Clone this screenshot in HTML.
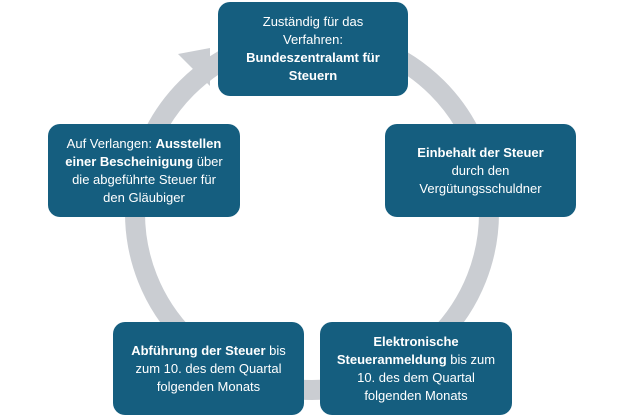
<!DOCTYPE html>
<html><head><meta charset="utf-8"><style>
body{margin:0;width:624px;height:418px;background:#fff;position:relative;overflow:hidden;font-family:"Liberation Sans",sans-serif;}
.b{position:absolute;background:#155e7f;border-radius:12px;color:#fff;font-size:13px;line-height:18px;text-align:center;display:flex;align-items:center;justify-content:center;box-sizing:border-box;padding:0 14px;}
b{font-weight:bold}
</style></head><body>
<svg width="624" height="418" style="position:absolute;left:0;top:0">
<circle cx="312" cy="213" r="177" fill="none" stroke="#cacdd2" stroke-width="20"/>
<polygon points="178,54 210,48 210,86" fill="#cacdd2"/>
</svg>
<div class="b" style="left:218px;top:2px;width:190px;height:94px"><span>Zuständig für das<br>Verfahren:<br><b>Bundeszentralamt für Steuern</b></span></div>
<div class="b" style="left:385px;top:124px;width:191px;height:93px"><span><b>Einbehalt der Steuer</b><br>durch den<br>Vergütungsschuldner</span></div>
<div class="b" style="left:48px;top:124px;width:192px;height:93px"><span>Auf Verlangen: <b>Ausstellen einer Bescheinigung</b> über die abgeführte Steuer für den Gläubiger</span></div>
<div class="b" style="left:113px;top:322px;width:191px;height:93px"><span><b>Abführung der Steuer</b> bis zum 10. des dem Quartal folgenden Monats</span></div>
<div class="b" style="left:320px;top:322px;width:192px;height:93px"><span><b>Elektronische Steueranmeldung</b> bis zum 10. des dem Quartal folgenden Monats</span></div>
</body></html>
